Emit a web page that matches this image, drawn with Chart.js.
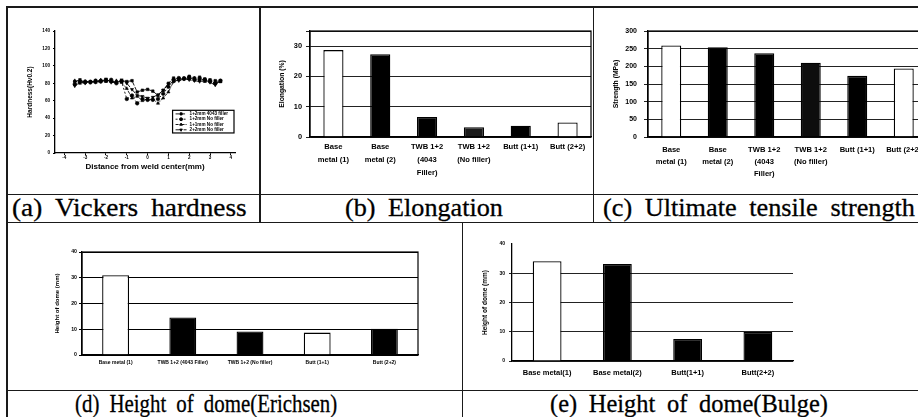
<!DOCTYPE html>
<html>
<head>
<meta charset="utf-8">
<script src="https://cdn.jsdelivr.net/npm/chart.js@4.4.0/dist/chart.umd.min.js"></script>
<style>
  body { margin: 0; background: #fff; }
  .sheet { position: relative; width: 918px; height: 417px; overflow: hidden; background: #fff; }
  .sheet canvas { position: absolute; }
  .hl, .vl { position: absolute; background: #1a1a1a; }
  .hl { height: 1.5px; }
  .vl { width: 1.5px; }
  .cap { position: absolute; font-family: "Liberation Serif", serif; font-size: 26px; line-height: 25px;
         white-space: nowrap; color: #000; transform-origin: 0 0; word-spacing: 6px;
         -webkit-text-stroke: 0.3px #000; }
</style>
</head>
<body>
<div class="sheet">
  <canvas id="hardness" width="250" height="182" style="left:8px;top:10px"></canvas>
  <canvas id="elong" width="330" height="182" style="left:262px;top:10px"></canvas>
  <canvas id="uts" width="335" height="182" style="left:595px;top:10px"></canvas>
  <canvas id="erichsen" width="451" height="164" style="left:9px;top:224px"></canvas>
  <canvas id="bulge" width="450" height="164" style="left:464px;top:224px"></canvas>

  <div class="hl" style="left:6px;top:6px;width:912px"></div>
  <div class="vl" style="left:6px;top:6px;height:411px"></div>
  <div class="hl" style="left:6px;top:193.5px;width:912px"></div>
  <div class="hl" style="left:6px;top:221.5px;width:912px"></div>
  <div class="hl" style="left:6px;top:389.5px;width:912px"></div>
  <div class="vl" style="left:259px;top:6px;height:216px"></div>
  <div class="vl" style="left:592.5px;top:6px;height:216px"></div>
  <div class="vl" style="left:461.5px;top:222px;height:195px"></div>

  <div class="cap" data-w="235" style="left:12px;top:195px">(a) Vickers hardness</div>
  <div class="cap" data-w="158" style="left:345px;top:195px">(b) Elongation</div>
  <div class="cap" data-w="312" style="left:603px;top:195px">(c) Ultimate tensile strength</div>
  <div class="cap" data-w="262" style="left:75px;top:391px">(d) Height of dome(Erichsen)</div>
  <div class="cap" data-w="278" style="left:550px;top:391px">(e) Height of dome(Bulge)</div>
</div>
<script>
// (a) hardness profiles across the weld
const distance = [-3.5,-3.25,-3,-2.75,-2.5,-2.25,-2,-1.75,-1.5,-1.25,-1,-0.75,-0.5,-0.25,0,0.25,0.5,0.75,1,1.25,1.5,1.75,2,2.25,2.5,2.75,3,3.25,3.5];
const hv12Filler  = [82,84,81,82,82,83,84,82,81,83,82,83,70,72,73,71,66,72,80,86,85,86,88,86,87,85,84,83,82];
const hv12NoFill  = [79,82,82,81,83,82,83,84,80,82,62,66,57,62,61,61,62,68,76,84,86,85,87,84,85,84,82,80,83];
const hv11NoFill  = [83,80,82,82,81,84,82,82,83,81,74,63,65,60,61,62,57,63,70,82,84,86,85,86,83,82,83,80,82];
const hv22NoFill  = [77,81,80,82,81,82,85,81,81,84,80,73,66,65,63,64,67,72,79,82,83,85,84,83,82,83,81,78,83];
const hardnessNames = ['1+2mm 4043 filler', '1+2mm No filler', '1+1mm No filler', '2+2mm No filler'];
const distanceTicks = [-4,-3,-2,-1,0,1,2,3,4];

// (b), (c) tensile results
const tensileLabels = [['Base','metal (1)'], ['Base','metal (2)'], ['TWB 1+2','(4043','Filler)'], ['TWB 1+2','(No filler)'], 'Butt (1+1)', 'Butt (2+2)'];
const elongation = [28.7, 27.3, 6.6, 3.2, 3.7, 4.8];
const strength = [259, 254, 237, 210, 173, 194];

// (d) Erichsen, (e) bulge
const erichsenLabels = ['Base metal (1)', 'TWB 1+2 (4043 Filler)', 'TWB 1+2 (No filler)', 'Butt (1+1)', 'Butt (2+2)'];
const erichsenHeight = [31, 14.6, 9.1, 8.7, 10.2];
const bulgeLabels = ['Base metal(1)', 'Base metal(2)', 'Butt(1+1)', 'Butt(2+2)'];
const bulgeHeight = [34.1, 33.2, 7.5, 9.9];

const FONT = '"Liberation Sans", Arial, sans-serif';

document.querySelectorAll('.cap').forEach(el => {
    el.style.transform = `scaleX(${+el.dataset.w / el.offsetWidth})`;
});

Chart.register({
    id: 'frame',
    afterDatasetsDraw(chart, args, opts) {
        if (!opts.show) return;
        const {ctx, chartArea: a} = chart;
        ctx.save();
        ctx.strokeStyle = '#000';
        ctx.lineWidth = 1.2;
        ctx.strokeRect(a.left, a.top, a.right - a.left, a.bottom - a.top);
        ctx.restore();
    }
});

function barChart(id, labels, values, fills, o) {
    return new Chart(document.getElementById(id), {
        type: 'bar',
        data: {
            labels: labels,
            datasets: [{
                data: values,
                backgroundColor: fills,
                borderColor: '#000',
                borderWidth: 1.3,
                barPercentage: o.bar,
                categoryPercentage: 1
            }]
        },
        options: {
            responsive: false,
            animation: false,
            layout: {padding: {top: o.top, right: o.right, left: 0, bottom: 0}},
            plugins: {legend: {display: false}, tooltip: {enabled: false}, frame: {show: o.frame}},
            scales: {
                x: {
                    grid: {display: false, drawTicks: false},
                    border: {color: '#000', width: 1.3},
                    ticks: {color: '#000', padding: o.xPad, maxRotation: 0, minRotation: 0, autoSkip: false,
                            font: {family: FONT, size: o.xFont, weight: 'bold', lineHeight: o.xLine || 1.2}},
                    afterFit: s => { s.height = o.xh; }
                },
                y: {
                    min: 0, max: o.max,
                    grid: {color: o.gridColor || '#222', lineWidth: 1, tickLength: o.tickLen},
                    border: {color: '#000', width: 1.3},
                    ticks: {stepSize: o.step, color: '#000', padding: o.yPad,
                            font: {family: FONT, size: o.yFont, weight: 'bold'},
                            callback: v => (v % o.step === 0 ? v : '')},
                    title: {display: true, text: o.title, color: '#000',
                            font: {family: FONT, size: o.titleFont, weight: 'bold'},
                            padding: {top: o.titlePad, bottom: 0}},
                    afterFit: s => { s.width = o.yw; }
                }
            }
        }
    });
}

barChart('elong', tensileLabels, elongation, ['#fff', '#000', '#000', '#1a1a1a', '#000', '#fff'], {
    bar: 0.43, top: 21, right: 1, xh: 55, yw: 48, max: 35, step: 10, frame: true,
    xFont: 7.6, xLine: 1.7, xPad: 3.5, yFont: 7.4, yPad: 4, tickLen: 4,
    title: 'Elongation (%)', titleFont: 6.8, titlePad: 16
});

barChart('uts', tensileLabels, strength, ['#fff', '#000', '#000', '#0d0d0d', '#000', '#fff'], {
    bar: 0.43, top: 21, right: 3, xh: 55, yw: 53, max: 300, step: 50, frame: true,
    xFont: 7.6, xLine: 1.58, xPad: 7, yFont: 7, yPad: 7, tickLen: 4,
    title: 'Strength (MPa)', titleFont: 6.8, titlePad: 17
});

barChart('erichsen', erichsenLabels, erichsenHeight, ['#fff', '#000', '#000', '#fff', '#000'], {
    bar: 0.40, top: 28, right: 42, xh: 33, yw: 73, max: 40, step: 10, frame: true,
    xFont: 5, xPad: 5, yFont: 5.2, yPad: 2, tickLen: 3, gridColor: '#000',
    title: 'Height of dome (mm)', titleFont: 6, titlePad: 45
});

barChart('bulge', bulgeLabels, bulgeHeight, ['#fff', '#000', '#000', '#000'], {
    bar: 0.41, top: 20, right: 121, xh: 27, yw: 48, max: 40, step: 10, frame: false,
    xFont: 7.5, xPad: 7.5, yFont: 5, yPad: 4, tickLen: 3,
    gridColor: ctx => (ctx.tick && ctx.tick.value === 40 ? 'rgba(0,0,0,0)' : '#222'),
    title: 'Height of dome (mm)', titleFont: 6.5, titlePad: 17
});

// hardness line chart with its legend drawn inside the plot
const hvSeries = [hv12Filler, hv12NoFill, hv11NoFill, hv22NoFill];
const hvStyles = ['rect', 'circle', 'triangle', 'triangle'];
const hvRotation = [0, 0, 0, 180];
const hvDash = [[4, 1.5], [2, 2], [3, 1, 1, 1], [6, 2]];

const hvLegend = {
    id: 'hvLegend',
    afterDraw(chart) {
        const {ctx} = chart;
        const xs = chart.scales.x, ys = chart.scales.y;
        const left = xs.getPixelForValue(1.2), right = chart.chartArea.right - 1;
        const top = ys.getPixelForValue(49), bottom = ys.getPixelForValue(23);
        ctx.save();
        ctx.fillStyle = '#fff';
        ctx.fillRect(left, top, right - left, bottom - top);
        ctx.strokeStyle = '#000';
        ctx.lineWidth = 1.2;
        ctx.strokeRect(left, top, right - left, bottom - top);
        ctx.beginPath();
        ctx.rect(left, top, right - left, bottom - top);
        ctx.clip();
        chart.data.datasets.forEach((ds, i) => {
            const y = top + 3.6 + i * 5.3;
            ctx.strokeStyle = '#000';
            ctx.fillStyle = '#000';
            ctx.lineWidth = 0.9;
            ctx.setLineDash(ds.borderDash);
            ctx.beginPath();
            ctx.moveTo(left + 3, y);
            ctx.lineTo(left + 14, y);
            ctx.stroke();
            ctx.setLineDash([]);
            if (Chart.helpers && Chart.helpers.drawPoint) {
                Chart.helpers.drawPoint(ctx, {pointStyle: ds.pointStyle, rotation: ds.pointRotation, radius: 1.5, borderWidth: 0.5}, left + 8.5, y);
            } else {
                ctx.fillRect(left + 7, y - 1.5, 3, 3);
            }
            ctx.font = `bold 4.6px ${FONT}`;
            ctx.textBaseline = 'middle';
            ctx.fillText(ds.label, left + 17, y);
        });
        ctx.restore();
    }
};

new Chart(document.getElementById('hardness'), {
    type: 'line',
    data: {
        datasets: hvSeries.map((vals, i) => ({
            label: hardnessNames[i],
            data: distance.map((d, k) => ({x: d, y: vals[k]})),
            borderColor: '#000',
            backgroundColor: '#000',
            borderWidth: 0.9,
            borderDash: hvDash[i],
            pointStyle: hvStyles[i],
            pointRotation: hvRotation[i],
            pointRadius: 1.8,
            pointBorderWidth: 0.6,
            fill: false,
            tension: 0
        }))
    },
    options: {
        responsive: false,
        animation: false,
        layout: {padding: {top: 21, right: 23, left: 0, bottom: 0}},
        plugins: {legend: {display: false}, tooltip: {enabled: false}},
        scales: {
            x: {
                type: 'linear', min: -4.45, max: 4.2,
                afterBuildTicks: s => { s.ticks = distanceTicks.map(v => ({value: v})); },
                grid: {drawOnChartArea: false, tickLength: 2, color: '#000'},
                border: {color: '#000', width: 1.3},
                ticks: {color: '#000', padding: 0, maxRotation: 0, font: {family: FONT, size: 4.6, weight: 'bold'}},
                title: {display: true, text: 'Distance from weld center(mm)', color: '#000',
                        font: {family: FONT, size: 8, weight: 'bold'}, padding: {top: 0, bottom: 20}},
                afterFit: s => { s.height = 39; }
            },
            y: {
                min: 0, max: 140,
                grid: {drawOnChartArea: false, tickLength: 2, color: '#000'},
                border: {color: '#000', width: 1.3},
                ticks: {stepSize: 20, color: '#000', padding: 3, font: {family: FONT, size: 4.6, weight: 'bold'}},
                title: {display: true, text: 'Hardness(Hv0.2)', color: '#000',
                        font: {family: FONT, size: 6.5, weight: 'bold'}, padding: {top: 18, bottom: 0}},
                afterFit: s => { s.width = 47; }
            }
        }
    },
    plugins: [hvLegend]
});
</script>
</body>
</html>
